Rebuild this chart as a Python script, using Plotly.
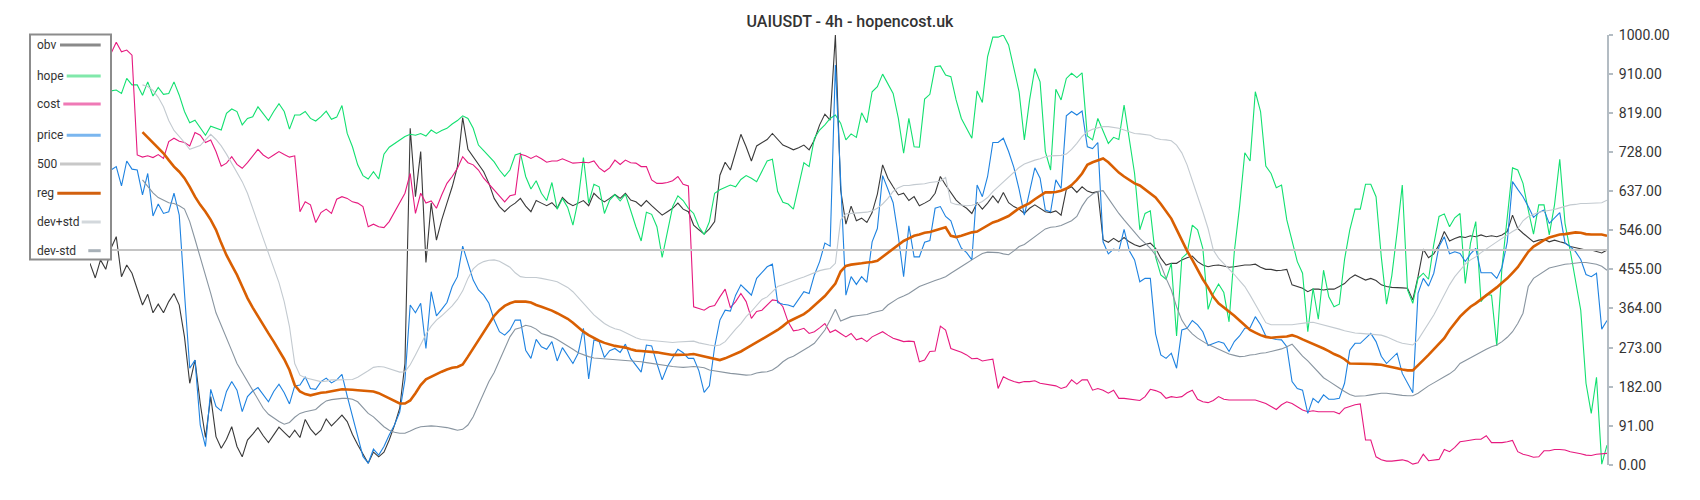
import plotly.graph_objects as go

# ---------------- data ----------------
title_text = "UAIUSDT - 4h - hopencost.uk"
y_tick_values = [0, 91, 182, 273, 364, 455, 546, 637, 728, 819, 910, 1000]
level_500 = 500

obv = [
    469, 435, 477, 455, 504, 531, 438, 465, 446, 411,
    372, 397, 354, 374, 354, 380, 399, 372, 298, 190,
    244, 143, 64, 159, 66, 39, 60, 89, 43, 19,
    58, 72, 87, 68, 52, 70, 88, 76, 64, 81,
    64, 106, 84, 70, 81, 107, 91, 103, 116, 101,
    71, 47, 25, 4, 30, 19, 30, 58, 92, 132,
    236, 783, 624, 729, 471, 609, 523, 570, 609, 647,
    694, 808, 734, 717, 698, 682, 655, 620, 601, 589,
    601, 609, 620, 602, 589, 615, 609, 603, 610, 597,
    622, 610, 603, 610, 615, 603, 632, 620, 612, 620,
    629, 620, 632, 616, 612, 602, 615, 603, 591, 581,
    589, 597, 609, 595, 589, 558, 547, 537, 549, 566,
    674, 704, 686, 729, 769, 740, 707, 742, 749, 757,
    771, 757, 744, 739, 733, 738, 744, 733, 756, 791,
    816, 802, 1000, 640, 560, 602, 568, 574, 564, 587,
    630, 698, 667, 647, 628, 632, 615, 624, 603, 609,
    616, 632, 671, 651, 632, 616, 605, 597, 585, 610,
    595, 609, 626, 610, 634, 610, 601, 595, 585, 597,
    605, 597, 589, 587, 591, 581, 641, 647, 634, 647,
    637, 633, 636, 524, 518, 527, 519, 529, 519, 512,
    508, 513, 516, 504, 481, 465, 469, 469, 477, 482,
    486, 473, 465, 461, 464, 465, 463, 460, 461, 463,
    465, 465, 467, 460, 455, 455, 452, 453, 455, 419,
    415, 411, 403, 409, 409, 407, 409, 409, 415, 422,
    434, 442, 436, 430, 434, 429, 419, 415, 413, 413,
    412, 411, 384, 438, 502, 482, 491, 512, 543, 521,
    527, 531, 529, 533, 531, 535, 531, 533, 531, 535,
    543, 581, 550, 539, 529, 519, 523, 525, 519, 523,
    519, 516, 508, 505, 502, 500, 500, 496, 493, 500,
]

hope = [
    875, 880, 868, 872, 870, 872, 864, 899, 884, 884,
    860, 891, 858, 878, 862, 864, 891, 860, 822, 796,
    802, 783, 767, 788, 783, 779, 818, 828, 822, 791,
    806, 810, 833, 818, 801, 822, 840, 822, 781, 814,
    814, 822, 806, 800, 810, 823, 804, 809, 836, 771,
    740, 698, 673, 665, 682, 665, 723, 739, 748, 756,
    764, 769, 767, 771, 765, 779, 771, 778, 783, 793,
    801, 812, 806, 783, 744, 731, 719, 705, 686, 671,
    686, 721, 725, 671, 642, 661, 632, 615, 657, 595,
    620, 599, 558, 616, 715, 609, 653, 647, 585, 616,
    629, 614, 630, 589, 554, 521, 588, 583, 554, 483,
    539, 601, 626, 615, 597, 585, 554, 536, 566, 632,
    640, 645, 651, 647, 664, 673, 667, 659, 682, 707,
    711, 636, 611, 607, 595, 647, 703, 694, 760, 779,
    791, 806, 814, 795, 756, 770, 762, 819, 796, 868,
    880, 909, 888, 864, 806, 725, 806, 740, 739, 851,
    862, 926, 928, 907, 903, 849, 806, 783, 760, 870,
    843, 950, 995, 995, 1000, 977, 922, 868, 756, 849,
    922, 891, 729, 686, 874, 849, 899, 911, 901, 912,
    765, 756, 806, 779, 748, 762, 757, 837, 760, 678,
    547, 585, 591, 484, 442, 432, 469, 300, 481, 492,
    558, 547, 504, 362, 399, 421, 401, 333, 496, 601,
    726, 707, 868, 822, 695, 678, 645, 651, 570, 523,
    473, 446, 310, 411, 339, 453, 391, 368, 374, 478,
    547, 595, 595, 653, 653, 624, 484, 374, 440, 540,
    651, 407, 376, 434, 446, 432, 513, 578, 584, 554,
    575, 585, 422, 516, 566, 380, 397, 395, 277, 461,
    570, 691, 686, 655, 593, 537, 605, 605, 535, 605,
    711, 562, 498, 429, 360, 190, 120, 204, 2, 46,
]

cost = [
    960, 975, 968, 957, 957, 983, 961, 965, 953, 721,
    716, 719, 715, 722, 713, 752, 760, 753, 750, 742,
    773, 767, 750, 756, 729, 695, 702, 717, 699, 690,
    703, 719, 734, 721, 713, 721, 729, 722, 716, 719,
    589, 612, 605, 564, 587, 595, 585, 618, 624, 620,
    612, 609, 601, 554, 560, 554, 552, 566, 587, 610,
    632, 678, 585, 632, 609, 614, 597, 628, 655, 671,
    690, 717, 703, 698, 686, 667, 653, 640, 624, 612,
    626, 629, 723, 719, 713, 719, 712, 704, 707, 707,
    712, 707, 702, 703, 704, 703, 707, 691, 682, 691,
    709, 699, 709, 703, 702, 694, 694, 663, 655, 655,
    657, 661, 671, 653, 649, 368, 364, 360, 368, 371,
    391, 409, 366, 380, 399, 380, 341, 357, 360, 372,
    384, 382, 368, 333, 312, 314, 318, 306, 310, 319,
    329, 308, 314, 306, 298, 306, 291, 295, 287, 298,
    304, 310, 302, 295, 291, 287, 288, 287, 240, 244,
    264, 265, 323, 314, 271, 267, 262, 256, 247, 248,
    242, 244, 246, 178, 205, 199, 194, 191, 194, 194,
    196, 190, 188, 186, 184, 178, 182, 198, 188, 198,
    198, 174, 178, 174, 167, 174, 155, 155, 153, 151,
    150, 159, 176, 173, 168, 155, 159, 157, 159, 168,
    174, 153, 147, 145, 150, 159, 153, 151, 151, 151,
    150, 151, 151, 147, 143, 136, 129, 140, 147, 143,
    136, 128, 124, 126, 124, 124, 124, 124, 119, 132,
    136, 140, 142, 58, 58, 19, 12, 9, 9, 10,
    12, 9, 2, 5, 25, 10, 12, 13, 36, 31,
    41, 54, 56, 58, 60, 60, 68, 52, 52, 52,
    54, 57, 31, 25, 22, 18, 19, 33, 33, 36,
    36, 35, 31, 29, 26, 23, 22, 25, 26, 27,
]

price = [
    690, 700, 680, 695, 686, 694, 649, 707, 688, 686,
    628, 678, 579, 607, 585, 589, 632, 581, 400, 225,
    244, 93, 43, 176, 136, 126, 171, 194, 174, 124,
    159, 172, 180, 163, 147, 171, 188, 168, 142, 184,
    186, 205, 178, 176, 194, 202, 191, 198, 211, 160,
    112, 70, 20, 4, 37, 23, 43, 70, 93, 123,
    198, 372, 354, 376, 271, 403, 347, 362, 378, 415,
    438, 509, 469, 430, 407, 395, 376, 337, 310, 302,
    314, 337, 337, 267, 248, 292, 275, 269, 287, 242,
    273, 253, 236, 260, 318, 200, 291, 287, 250, 266,
    271, 262, 281, 248, 233, 216, 279, 277, 236, 198,
    229, 248, 269, 261, 248, 248, 219, 169, 184, 275,
    337, 360, 358, 395, 419, 407, 395, 434, 448, 461,
    467, 378, 374, 372, 368, 385, 403, 399, 442, 473,
    516, 509, 930, 663, 395, 438, 420, 438, 425, 519,
    550, 673, 640, 610, 531, 438, 556, 484, 484, 518,
    522, 597, 601, 578, 568, 531, 504, 494, 477, 651,
    624, 671, 750, 750, 760, 729, 692, 641, 581, 640,
    691, 667, 593, 589, 663, 643, 812, 822, 814, 823,
    740, 736, 750, 519, 491, 502, 498, 548, 498, 477,
    426, 434, 434, 305, 256, 248, 260, 225, 314, 318,
    336, 326, 310, 278, 283, 287, 283, 264, 287, 300,
    318, 319, 345, 326, 300, 295, 292, 291, 275, 194,
    178, 174, 120, 155, 145, 163, 153, 153, 155, 190,
    267, 283, 283, 295, 306, 287, 253, 236, 248, 260,
    213, 190, 168, 399, 434, 416, 446, 508, 531, 491,
    496, 492, 473, 491, 504, 447, 447, 447, 434, 460,
    519, 659, 641, 624, 601, 576, 587, 593, 562, 574,
    587, 516, 508, 496, 478, 443, 438, 446, 316, 336,
]

reg = [None] * 10 + [
    774, 762, 750, 736, 725, 709, 694, 682, 667, 647,
    624, 605, 589, 570, 547, 516, 488, 465, 442, 415,
    388, 366, 345, 326, 306, 287, 267, 246, 221, 186,
    171, 165, 162, 165, 168, 169, 172, 174, 176, 176,
    175, 174, 173, 172, 171, 167, 161, 155, 149, 143,
    143, 150, 167, 186, 199, 205, 212, 217, 222, 226,
    228, 234, 252, 271, 291, 310, 329, 347, 360, 370,
    376, 380, 380, 380, 378, 372, 368, 364, 359, 353,
    347, 340, 331, 320, 310, 302, 295, 289, 284, 280,
    277, 275, 273, 269, 266, 265, 264, 264, 262, 260,
    258, 256, 256, 256, 257, 258, 255, 253, 250, 246,
    244, 248, 253, 258, 264, 271, 278, 285, 292, 298,
    306, 314, 323, 333, 339, 345, 351, 360, 370, 382,
    393, 407, 422, 450, 463, 466, 467, 469, 471, 472,
    475, 484, 492, 503, 512, 521, 527, 533, 536, 540,
    542, 546, 549, 553, 533, 530, 533, 537, 541, 543,
    550, 557, 564, 568, 573, 579, 588, 597, 603, 609,
    618, 627, 634, 634, 635, 638, 643, 651, 663, 678,
    698, 704, 709, 713, 704, 692, 680, 671, 663, 655,
    650, 641, 632, 622, 607, 591, 573, 548, 523, 498,
    477, 453, 432, 413, 391, 376, 367, 358, 347, 336,
    326, 314, 308, 302, 298, 296, 297, 298, 299, 302,
    298, 292, 287, 281, 277, 271, 265, 258, 253, 246,
    236, 236, 235, 235, 235, 234, 233, 230, 228, 225,
    222, 220, 220, 233, 244, 256, 269, 283, 295, 314,
    331, 345, 357, 368, 376, 385, 395, 402, 413, 424,
    434, 447, 460, 478, 496, 508, 516, 523, 529, 533,
    536, 537, 539, 541, 540, 537, 536, 536, 536, 533,
]

dev_plus_std = [None] * 10 + [
    884, 880, 871, 855, 833, 801, 778, 765, 750, 734,
    739, 743, 756, 769, 757, 742, 723, 702, 682, 659,
    632, 599, 562, 527, 492, 460, 424, 380, 322, 236,
    209, 203, 200, 198, 194, 195, 198, 198, 198, 198,
    199, 204, 211, 219, 227, 229, 228, 224, 219, 216,
    217, 233, 256, 279, 304, 323, 337, 347, 359, 370,
    385, 405, 434, 456, 467, 473, 476, 477, 474, 467,
    460, 447, 438, 436, 436, 436, 434, 432, 429, 426,
    420, 413, 403, 389, 376, 362, 349, 339, 329, 322,
    317, 314, 308, 303, 296, 292, 291, 290, 288, 287,
    286, 285, 286, 287, 288, 288, 284, 281, 279, 277,
    279, 287, 302, 316, 329, 345, 357, 372, 385, 391,
    403, 415, 419, 424, 429, 433, 437, 442, 446, 452,
    455, 457, 469, 570, 584, 585, 586, 587, 588, 591,
    597, 607, 620, 636, 645, 650, 650, 652, 653, 654,
    657, 659, 660, 669, 610, 606, 605, 603, 604, 607,
    613, 622, 636, 647, 659, 671, 682, 692, 700, 705,
    709, 712, 717, 719, 719, 720, 723, 734, 748, 764,
    775, 781, 784, 787, 787, 785, 783, 779, 775, 771,
    770, 768, 767, 760, 757, 756, 754, 744, 726, 698,
    663, 624, 589, 550, 500, 481, 469, 455, 443, 429,
    415, 395, 374, 353, 331, 326, 326, 326, 326, 326,
    328, 330, 331, 332, 329, 326, 323, 319, 316, 312,
    309, 307, 306, 305, 305, 304, 302, 298, 292, 287,
    283, 281, 279, 291, 310, 329, 349, 372, 395, 419,
    438, 453, 467, 477, 484, 494, 503, 512, 519, 527,
    536, 543, 550, 568, 578, 583, 588, 590, 592, 594,
    598, 601, 605, 606, 608, 608, 609, 609, 610, 616,
]

dev_minus_std = [None] * 10 + [
    663, 649, 633, 622, 615, 610, 608, 603, 595, 566,
    525, 483, 446, 399, 354, 326, 295, 266, 236, 215,
    194, 171, 150, 132, 118, 109, 101, 95, 99, 111,
    120, 124, 126, 129, 140, 149, 152, 154, 155, 155,
    153, 147, 133, 120, 112, 101, 89, 81, 76, 74,
    74, 79, 85, 89, 90, 91, 90, 89, 87, 84,
    81, 83, 93, 112, 140, 167, 194, 215, 243, 272,
    298, 316, 319, 325, 322, 316, 306, 302, 298, 292,
    285, 277, 269, 261, 256, 252, 249, 248, 247, 247,
    246, 245, 244, 243, 241, 240, 238, 236, 234, 232,
    230, 229, 228, 227, 228, 229, 228, 226, 221, 219,
    216, 215, 213, 212, 211, 209, 210, 214, 216, 217,
    221, 229, 240, 248, 253, 260, 266, 275, 283, 298,
    314, 337, 362, 335, 340, 345, 347, 349, 350, 354,
    357, 360, 372, 380, 388, 393, 399, 407, 415, 420,
    425, 429, 433, 438, 446, 453, 461, 469, 477, 484,
    492, 495, 495, 494, 491, 489, 498, 508, 513, 522,
    533, 542, 549, 553, 554, 557, 562, 568, 578, 602,
    620, 630, 636, 638, 620, 601, 585, 570, 556, 542,
    527, 516, 504, 488, 465, 434, 407, 368, 337, 318,
    305, 295, 287, 280, 275, 269, 264, 258, 255, 252,
    253, 256, 257, 260, 261, 264, 267, 270, 275, 281,
    267, 253, 242, 229, 216, 203, 195, 186, 179, 171,
    164, 160, 160, 161, 163, 165, 167, 167, 165, 164,
    162, 161, 161, 167, 176, 184, 191, 199, 205, 212,
    221, 236, 243, 248, 256, 264, 269, 275, 279, 287,
    297, 310, 329, 353, 415, 434, 442, 450, 458, 461,
    464, 467, 468, 470, 471, 471, 469, 467, 462, 453,
]

n_points = len(obv)
line_500 = [level_500] * n_points

# ---------------- styling ----------------
series = [
    ("obv", obv, "#3a3a3a", 1.1),
    ("hope", hope, "#12e070", 1.1),
    ("cost", cost, "#e6197f", 1.1),
    ("price", price, "#1e82e0", 1.1),
    ("500", line_500, "#c4c4c4", 2.0),
    ("reg", reg, "#d95f02", 2.6),
    ("dev+std", dev_plus_std, "#c3cad0", 1.1),
    ("dev-std", dev_minus_std, "#8995a0", 1.1),
]

fig = go.Figure()
for name, ys, color, width in series:
    fig.add_trace(go.Scatter(
        x=list(range(len(ys))), y=ys, mode="lines", name=name,
        line=dict(color=color, width=width), showlegend=False,
        hoverinfo="skip", connectgaps=False,
    ))

# plot-area geometry in pixels (for the custom boxed legend)
PL, PR, PT, PB = 90, 1607, 35, 465


def fx(px):
    return (px - PL) / (PR - PL)


def fy(py):
    return (PB - py) / (PB - PT)


legend_items = [
    ("obv", "#8a8a8a", 60.0, 45.0),
    ("hope", "#80e8aa", 66.7, 76.0),
    ("cost", "#ef79b6", 63.3, 104.0),
    ("price", "#7ab6ef", 66.7, 135.3),
    ("500", "#c8c8c8", 60.0, 164.0),
    ("reg", "#d2600e", 57.3, 193.3),
    ("dev+std", "#d3d8dc", 81.7, 222.0),
    ("dev-std", "#a8b1b8", 88.3, 250.7),
]

shapes = [dict(
    type="rect", xref="paper", yref="paper",
    x0=fx(30), x1=fx(111), y0=fy(259.5), y1=fy(34.5),
    line=dict(color="#8c8c8c", width=2), fillcolor="white", layer="above",
)]
annotations = []
for label, col, x_start, yc in legend_items:
    shapes.append(dict(
        type="line", xref="paper", yref="paper",
        x0=fx(x_start), x1=fx(100.7), y0=fy(yc), y1=fy(yc),
        line=dict(color=col, width=3), layer="above",
    ))
    annotations.append(dict(
        x=fx(35), y=fy(yc), xref="paper", yref="paper",
        text=label, showarrow=False, xanchor="left", yanchor="middle",
        font=dict(family="Roboto", size=12, color="#333333"),
    ))

fig.update_layout(
    width=1700, height=500,
    margin=dict(l=PL, r=1700 - PR, t=PT, b=500 - PB),
    paper_bgcolor="white", plot_bgcolor="white",
    hovermode=False,
    showlegend=False,
    title=dict(
        text=title_text, x=0.5, xref="container", xanchor="center",
        y=1 - 21 / 500, yref="container", yanchor="middle",
        font=dict(family="Roboto", size=16, color="#333333", weight=500),
    ),
    xaxis=dict(range=[0, n_points - 1], visible=False),
    yaxis=dict(
        range=[0, 1000], side="right",
        tickvals=y_tick_values,
        ticktext=[f"{v:.2f}" for v in y_tick_values],
        showgrid=False, zeroline=False,
        showline=True, linecolor="#b3bcc3", linewidth=2,
        ticks="outside", ticklen=4, tickwidth=2, tickcolor="#b3bcc3",
        ticklabelstandoff=3,
        tickfont=dict(family="Roboto", size=14, color="#333333"),
    ),
    shapes=shapes,
    annotations=annotations,
)

# remove the browser's default 8px body margin so the figure sits at (0, 0)
fig.write_html(
    "out.html",
    config={"displayModeBar": False, "staticPlot": True},
    post_script="document.body.style.margin='0px';",
)
